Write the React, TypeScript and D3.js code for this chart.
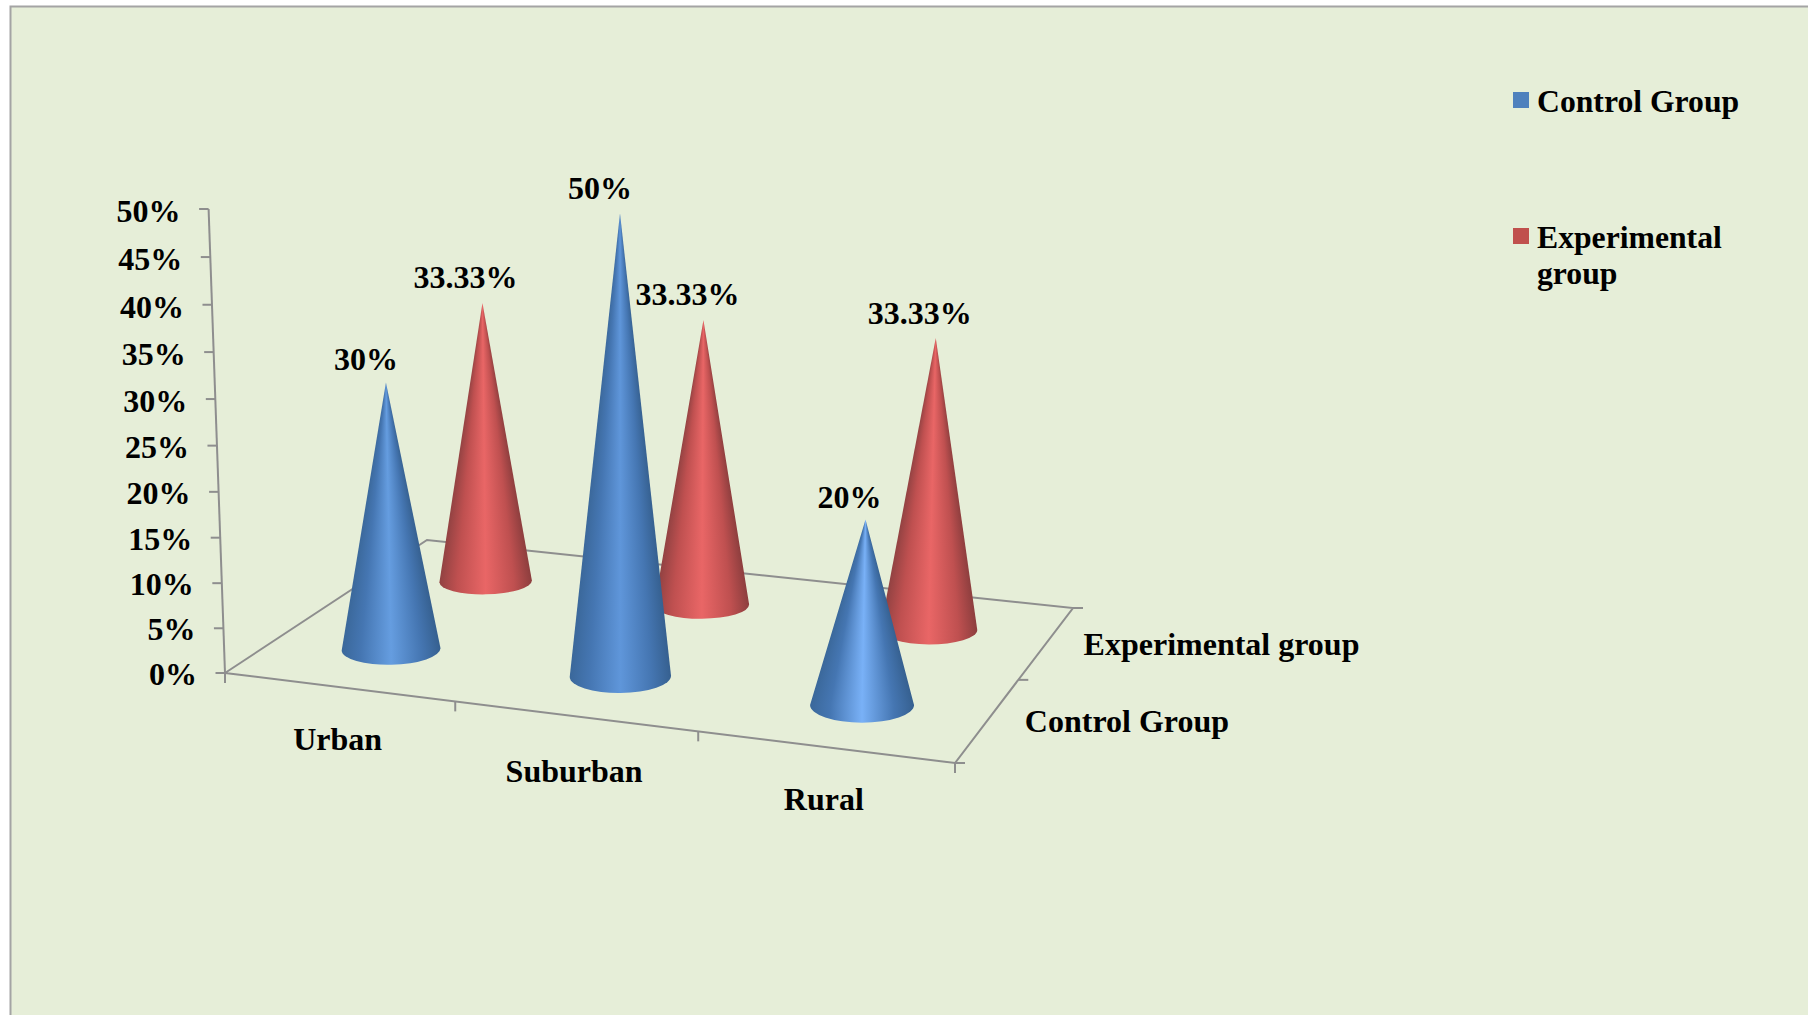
import React from "react";
import * as d3 from "d3";

// Chart content
const categories = ["Urban", "Suburban", "Rural"];
const seriesNames = ["Control Group", "Experimental group"];
const controlValues = [30, 50, 20];
const experimentalValues = [33.33, 33.33, 33.33];
const valueLabels = [
  ["30%", "50%", "20%"],
  ["33.33%", "33.33%", "33.33%"],
];
const yTicks = [0, 5, 10, 15, 20, 25, 30, 35, 40, 45, 50];

// Colours
const legendColors = ["#4f81bd", "#c0504d"];
const coneEdges = [
  ["#3a6799", "#4576b2", "#4576b2", "#355f8e"],
  ["#8f4141", "#bf5050", "#bf5050", "#8a3d3d"],
];
const coneHighlights = [
  ["#659de0", "#5f96da", "#79b1f7"],
  ["#e96666", "#e96666", "#e96666"],
];
const PAGE_BG = "#e6eed8";
const AXIS = "#8e8e8e";
const FRAME = "#a4a4a4";
const FONT = "'Liberation Serif', 'Times New Roman', serif";
const FONT_SIZE = 32;

// Offsets of the value labels from their cone tips, per series and category
const labelDx = [
  [-20, -20, -16],
  [-17, -16, -16],
];
const labelDy = [
  [-13, -14, -12],
  [-15, -15, -14],
];
const catLabelDrop = [63, 66, 63];

type Pt = { x: number; y: number };

// Floor plane corners in screen space; the mapping between them is projective.
const quad: Pt[] = [
  { x: 225, y: 673 },
  { x: 955, y: 763 },
  { x: 1073, y: 608 },
  { x: 427, y: 540 },
];

function squareToQuad(q: Pt[]) {
  const [p0, p1, p2, p3] = q;
  const dx1 = p1.x - p2.x, dx2 = p3.x - p2.x, sx = p0.x - p1.x + p2.x - p3.x;
  const dy1 = p1.y - p2.y, dy2 = p3.y - p2.y, sy = p0.y - p1.y + p2.y - p3.y;
  const den = dx1 * dy2 - dx2 * dy1;
  const g = (sx * dy2 - dx2 * sy) / den;
  const h = (dx1 * sy - sx * dy1) / den;
  const a = p1.x - p0.x + g * p1.x, b = p3.x - p0.x + h * p3.x;
  const d = p1.y - p0.y + g * p1.y, e = p3.y - p0.y + h * p3.y;
  return (s: number, t: number): Pt => {
    const w = g * s + h * t + 1;
    return { x: (a * s + b * t + p0.x) / w, y: (d * s + e * t + p0.y) / w };
  };
}
const floor = squareToQuad(quad);

// Vertical lines converge on a far vanishing point below the chart.
const VANISH_Y = 13060;
const AXIS_VANISH_X = 663;
const CONE_VANISH_X = 630;
const valueFrac = d3.scaleLinear().domain([0, 50]).range([0, 1]);
const heightScale = (v: number) => {
  const f = valueFrac(v);
  return f * (0.96 + 0.04 * f) * 0.03746;
};
const depthGain = (fy: number) => 1 + (fy - quad[0].y) * 0.00098;

function raise(f: Pt, value: number, vx: number, gain: number): Pt {
  const t = heightScale(value) * gain;
  return { x: f.x + (f.x - vx) * t, y: f.y + (f.y - VANISH_Y) * t };
}
const axisPoint = (f: Pt, v: number) => raise(f, v, AXIS_VANISH_X, 1);
const conePoint = (f: Pt, v: number) => raise(f, v, CONE_VANISH_X, depthGain(f.y) * 0.995);

const catBand = d3.scaleBand<string>().domain(categories).range([0, 1]);
const serBand = d3.scaleBand<string>().domain(seriesNames).range([0, 1]);
const catCenter = (c: string) => (catBand(c) as number) + catBand.bandwidth() / 2;
const serCenter = (s: string) => (serBand(s) as number) + serBand.bandwidth() / 2;
const catEdges = [0, 1, 2, 3].map((i) => i / 3);

const squash = d3.scaleLinear().domain([580, 705]).range([0.28, 0.34]);

function Cone({ base, value, edges, highlight, id }: { base: Pt; value: number; edges: string[]; highlight: string; id: string }) {
  const apex = conePoint(base, value);
  const rx = 50.5 * (1 + (base.y - quad[0].y) * 0.00092);
  const ry = rx * squash(base.y);
  const ang = ((base.x - 863) * 0.003 * Math.PI) / 180;
  const cos = Math.cos(ang), sin = Math.sin(ang);
  const left = { x: base.x - rx * cos, y: base.y - rx * sin };
  const right = { x: base.x + rx * cos, y: base.y + rx * sin };
  const outline = `M${apex.x},${apex.y}L${left.x},${left.y}A${rx},${ry} ${(ang * 180) / Math.PI} 0 0 ${right.x},${right.y}Z`;

  // Shading is laid down in one-pixel rows, each spanning the cone's width at that
  // height, so the bands narrow towards the tip the way a lit cone does.
  const y0 = Math.floor(apex.y);
  const y1 = Math.ceil(base.y + ry + 2);
  const rows = d3.range(y0, y1).map((y) => {
    const k = Math.min(1, Math.max(0.001, (y + 0.5 - apex.y) / (base.y - apex.y)));
    const cx = apex.x + (base.x - apex.x) * Math.min(1, k);
    return { y, x: cx - rx * k - 1, w: 2 * rx * k + 2 };
  });
  const gid = `shade-${id}`;
  const stops = [
    { o: 0, c: edges[0] },
    { o: 0.2, c: edges[1] },
    { o: 0.5, c: highlight },
    { o: 0.8, c: edges[2] },
    { o: 1, c: edges[3] },
  ];
  return (
    <g>
      <defs>
        <linearGradient id={gid}>
          {stops.map((s) => (
            <stop key={s.o} offset={s.o} stopColor={s.c} />
          ))}
        </linearGradient>
        <clipPath id={`clip-${id}`}>
          <path d={outline} />
        </clipPath>
      </defs>
      <g clipPath={`url(#clip-${id})`}>
        {rows.map((r) => (
          <rect key={r.y} x={r.x} y={r.y} width={r.w} height={1} fill={`url(#${gid})`} shapeRendering="crispEdges" />
        ))}
      </g>
    </g>
  );
}

export default function App() {
  const W = 1808, H = 1015;
  const lineStyle = { stroke: AXIS, strokeWidth: 2, fill: "none" } as const;
  const textStyle = { fontFamily: FONT, fontWeight: 700, fontSize: FONT_SIZE, fill: "#000" } as const;

  const outline = d3.line<Pt>().x((p) => p.x).y((p) => p.y);
  const axisBase = quad[0];

  // Back row first so the nearer cones overlap it.
  const cones = [1, 0].flatMap((si) =>
    categories.map((c, ci) => {
      const value = (si === 0 ? controlValues : experimentalValues)[ci];
      const base = floor(catCenter(c), serCenter(seriesNames[si]));
      return { si, ci, value, base, key: `${si}-${ci}` };
    })
  );

  return (
    <svg
      width={W}
      height={H}
      viewBox={`0 0 ${W} ${H}`}
      style={{ position: "fixed", left: 0, top: 0, background: "#fff" }}
    >
      <rect x={10.5} y={6.5} width={W + 20} height={H + 20} fill={PAGE_BG} stroke={FRAME} strokeWidth={2} />

      {/* floor outline */}
      <path d={outline([quad[0], quad[1], quad[2], quad[3]])! + "Z"} {...lineStyle} />

      {/* value axis */}
      <path d={outline([axisBase, axisPoint(axisBase, 50)])!} {...lineStyle} />
      {yTicks.map((t) => {
        const p = axisPoint(axisBase, t);
        return (
          <g key={t}>
            <line x1={p.x - 9.5} x2={p.x} y1={p.y} y2={p.y} {...lineStyle} />
            <text x={p.x - 28} y={p.y + 12 + valueFrac(t)} textAnchor="end" {...textStyle}>
              {t}%
            </text>
          </g>
        );
      })}

      {/* category axis ticks and labels */}
      {catEdges.map((s) => {
        const p = floor(s, 0);
        return <line key={s} x1={p.x} x2={p.x} y1={p.y} y2={p.y + 10} {...lineStyle} />;
      })}
      {categories.map((c, i) => {
        const p = floor(catCenter(c), 0);
        return (
          <text key={c} x={p.x - 1} y={p.y + catLabelDrop[i]} textAnchor="middle" {...textStyle}>
            {c}
          </text>
        );
      })}

      {/* series axis ticks and labels */}
      {[0, 0.5, 1].map((t) => {
        const p = floor(1, t);
        return <line key={t} x1={p.x} x2={p.x + 10} y1={p.y} y2={p.y} {...lineStyle} />;
      })}
      {seriesNames.map((s) => {
        const p = floor(1, serCenter(s));
        return (
          <text key={s} x={p.x + 37} y={p.y + 12.5} {...textStyle}>
            {s}
          </text>
        );
      })}

      {cones.map((k) => (
        <Cone key={k.key} id={k.key} base={k.base} value={k.value} edges={coneEdges[k.si]} highlight={coneHighlights[k.si][k.ci]} />
      ))}

      {cones.map((k) => {
        const apex = conePoint(k.base, k.value);
        return (
          <text
            key={k.key}
            x={apex.x + labelDx[k.si][k.ci]}
            y={apex.y + labelDy[k.si][k.ci]}
            textAnchor="middle"
            {...textStyle}
          >
            {valueLabels[k.si][k.ci]}
          </text>
        );
      })}

      {/* legend */}
      <rect x={1513} y={92} width={16} height={16} fill={legendColors[0]} />
      <text x={1537} y={112} {...textStyle} fontSize={31.7}>
        {seriesNames[0]}
      </text>
      <rect x={1513} y={228} width={16} height={16} fill={legendColors[1]} />
      <text {...textStyle} fontSize={31.7}>
        <tspan x={1537} y={248}>Experimental</tspan>
        <tspan x={1537} y={284}>group</tspan>
      </text>
    </svg>
  );
}
